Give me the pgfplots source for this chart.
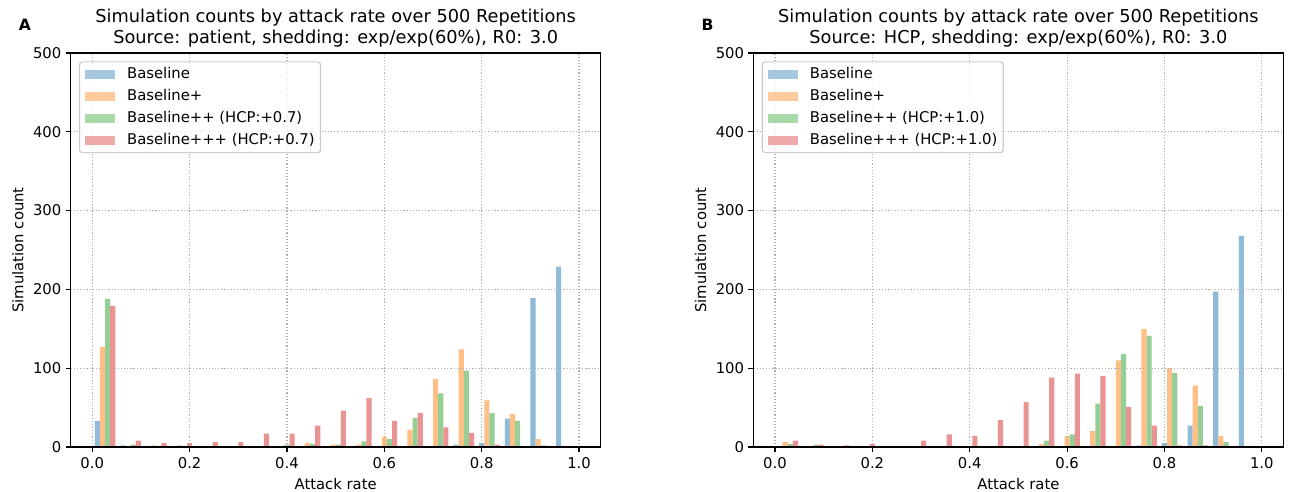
\documentclass[border=0pt]{standalone}
\usepackage{pgfplots}
\pgfplotsset{compat=1.18}
\usepackage{pgfplotstable}
\usepackage{fontspec}
\setmainfont{DejaVu Sans}

\definecolor{cBase}{HTML}{8FBBD9}
\definecolor{cPlus}{HTML}{FFBF86}
\definecolor{cPP}{HTML}{95CF95}
\definecolor{cPPP}{HTML}{EA9393}
\definecolor{gridc}{HTML}{B0B0B0}

% bin centres of 19 equal bins on [0,1], counts per scenario
\pgfplotstableread{
x        base plus pp  ppp
0.026316 33   127  188 179
0.078947 2    0    3   8
0.131579 1    2    0   5
0.184211 0    2    0   5
0.236842 0    0    0   6
0.289474 0    0    0   6
0.342105 0    1    1   17
0.394737 0    0    3   17
0.447368 0    5    4   27
0.500000 0    3    3   46
0.552632 0    3    7   62
0.605263 0    13   10  33
0.657895 1    22   37  43
0.710526 1    86   68  25
0.763158 3    124  97  18
0.815789 5    59   43  3
0.868421 36   42   33  0
0.921053 189  10   2   0
0.973684 229  0    0   0
}\countsA

\pgfplotstableread{
x        base plus pp  ppp
0.026316 0    6    4   8
0.078947 0    1    3   3
0.131579 0    0    0   2
0.184211 0    0    0   4
0.236842 0    0    1   1
0.289474 0    0    0   8
0.342105 0    1    0   16
0.394737 0    0    0   14
0.447368 0    1    0   34
0.500000 0    0    0   57
0.552632 0    4    8   88
0.605263 0    14   16  93
0.657895 0    20   55  90
0.710526 1    110  118 51
0.763158 2    150  141 27
0.815789 5    100  94  2
0.868421 27   78   52  2
0.921053 197  14   6   0
0.973684 268  0    0   0
}\countsB

\pgfplotsset{
  histo/.style={
    scale only axis, width=358pt, height=266.2pt,
    xmin=-0.0442, xmax=1.0442, ymin=0, ymax=500,
    xtick={0,0.2,0.4,0.6,0.8,1.0},
    ytick={0,100,200,300,400,500},
    /pgf/number format/assume math mode=true,
    xticklabel style={/pgf/number format/fixed, /pgf/number format/fixed zerofill,
      /pgf/number format/precision=1, anchor=base, inner sep=0pt, yshift=-10.9pt},
    yticklabel style={anchor=east, inner sep=0pt, xshift=-2.7pt},
    tick label style={font=\fontsize{10}{12}\selectfont},
    tick align=outside, major tick length=3.5pt,
    tick style={black, line width=0.8pt},
    xtick pos=bottom, ytick pos=left,
    axis line style={black, line width=0.8pt},
    grid=major,
    major grid style={gridc, line width=0.8pt, dash pattern=on 0.8pt off 1.32pt},
    axis on top,
    xlabel={Attack rate},
    ylabel={Simulation count},
    xlabel style={at={(axis description cs:0.5,0)}, anchor=base, inner sep=0pt,
      yshift=-28.4pt, font=\fontsize{10}{12}\selectfont},
    ylabel style={at={(axis description cs:-0.0997,0.5)}, anchor=center,
      inner sep=0pt, font=\fontsize{10}{12}\selectfont},
    title style={at={(0.5,1)}, anchor=south, yshift=-2.6pt, inner sep=0pt,
      align=center, font=\fontsize{12}{14.2}\selectfont},
    legend style={at={(0,1)}, anchor=north west, xshift=5.5pt, yshift=-5.6pt,
      draw=black!20, line width=0.8pt, rounded corners=2pt,
      fill=white, fill opacity=0.8, text opacity=1,
      font=\fontsize{10}{12}\selectfont,
      inner xsep=4pt, inner ysep=3.3pt, row sep=4.9pt, column sep=8.2pt,
      nodes={inner sep=0pt, text height=7.6pt, text depth=2.4pt}},
    legend cell align=left,
    legend image code/.code={\fill[##1, sharp corners] (0pt,-3.1pt) rectangle (20pt,3.1pt);},
  },
  bar/.style={ybar, bar width=0.010526, draw=none},
}

\begin{document}
\begin{tikzpicture}
\useasboundingbox (-47.8pt,-30.4pt) rectangle (823.8pt,302pt);

\begin{axis}[histo, at={(0pt,0pt)}, anchor=south west,
  title={Simulation counts by attack rate over 500 Repetitions\\Source: patient, shedding: exp/exp(60\%), R0: 3.0}]
  \addplot[bar, fill=cBase, bar shift=-0.015789] table[x=x, y=base] {\countsA};
  \addplot[bar, fill=cPlus, bar shift=-0.005263] table[x=x, y=plus] {\countsA};
  \addplot[bar, fill=cPP, bar shift=0.005263] table[x=x, y=pp] {\countsA};
  \addplot[bar, fill=cPPP, bar shift=0.015789] table[x=x, y=ppp] {\countsA};
  \legend{Baseline, Baseline+, Baseline++ (HCP:+0.7), Baseline+++ (HCP:+0.7)}
\end{axis}
\node[font=\bfseries\fontsize{10.5}{12}\selectfont, inner sep=0pt] at (-30.9pt,285.1pt) {A};

\begin{axis}[histo, at={(461.3pt,0pt)}, anchor=south west,
  title={Simulation counts by attack rate over 500 Repetitions\\Source: HCP, shedding: exp/exp(60\%), R0: 3.0}]
  \addplot[bar, fill=cBase, bar shift=-0.015789] table[x=x, y=base] {\countsB};
  \addplot[bar, fill=cPlus, bar shift=-0.005263] table[x=x, y=plus] {\countsB};
  \addplot[bar, fill=cPP, bar shift=0.005263] table[x=x, y=pp] {\countsB};
  \addplot[bar, fill=cPPP, bar shift=0.015789] table[x=x, y=ppp] {\countsB};
  \legend{Baseline, Baseline+, Baseline++ (HCP:+1.0), Baseline+++ (HCP:+1.0)}
\end{axis}
\node[font=\bfseries\fontsize{10.5}{12}\selectfont, inner sep=0pt] at (430.2pt,285.1pt) {B};
\end{tikzpicture}
\end{document}
